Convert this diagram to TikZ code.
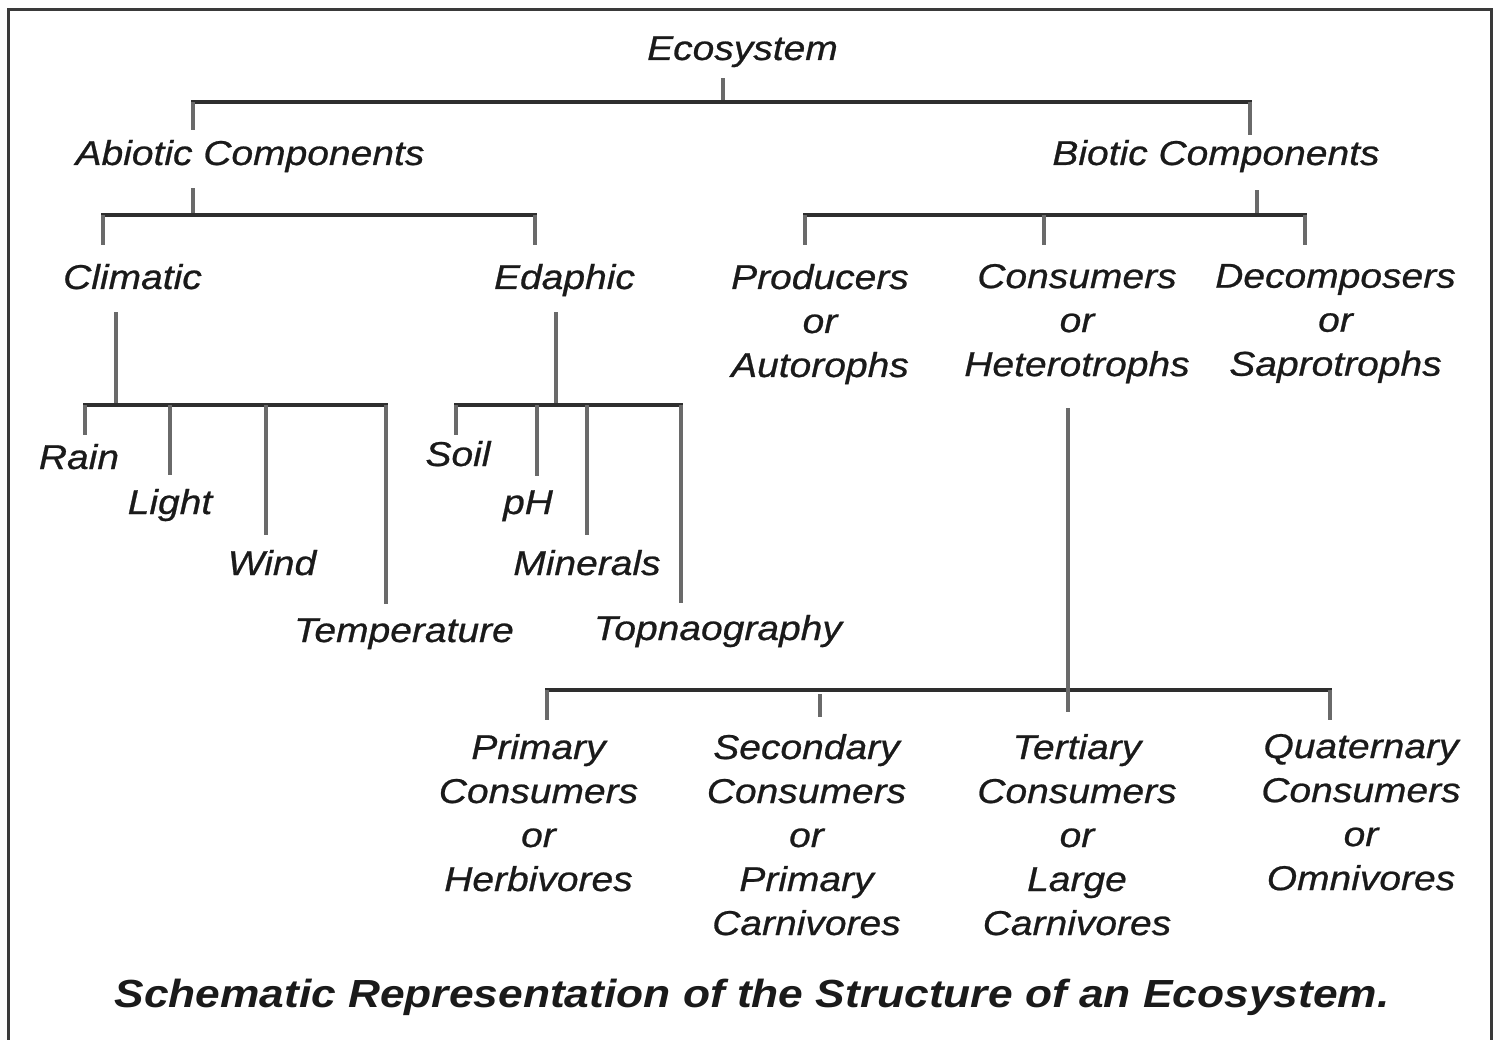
\documentclass[tikz,border=0pt]{standalone}
\usepackage{fontspec}
\newfontfamily\lblfont{Liberation Sans}[FakeStretch=1.13]
\newfontfamily\lblheavy{Liberation Sans}[FakeStretch=1.13, FakeBold=0.7]
\definecolor{txt}{HTML}{1A1A1A}
\definecolor{hcol}{HTML}{2E2E2E}
\definecolor{vcol}{HTML}{6A6A6A}
\definecolor{framecol}{HTML}{3A3A3A}
\begin{document}
\begin{tikzpicture}[x=1pt,y=-1pt,
  lbl/.style={inner sep=0pt, outer sep=0pt, text=txt,
    font=\lblheavy\itshape\fontsize{34.5}{44}\selectfont},
  one/.style={lbl, anchor=base},
  multi/.style={lbl, anchor=north, align=center},
  hl/.style={draw=hcol, line width=3.4pt, line cap=rect},
  vl/.style={draw=vcol, line width=4pt},
]
\useasboundingbox (0,0) rectangle (1497,1040);
\draw[framecol, line width=3pt] (8,1045) -- (8,10) -- (1491,10) -- (1491,1045);

% nodes
\node[one] (eco)  at (742.5,60) {Ecosystem};
\node[one] (abio) at (250,165) {Abiotic Components};
\node[one] (bio)  at (1216,165) {Biotic Components};
\node[one] (clim) at (132.5,289) {Climatic};
\node[one] (edap) at (564.5,289) {Edaphic};
\node[multi] (prod) at (820,264) {Producers\\or\\Autorophs};
\node[multi] (cons) at (1077,264) {Consumers\\or\\Heterotrophs};
\node[multi] (deco) at (1335.5,264) {Decomposers\\or\\Saprotrophs};
\node[one] (rain) at (79,469) {Rain};
\node[one] (light) at (170,514) {Light};
\node[one] (wind) at (272,575) {Wind};
\node[one] (temp) at (404,642) {Temperature};
\node[one] (soil) at (458,466) {Soil};
\node[one] (ph) at (528,514) {pH};
\node[one] (min) at (587,575) {Minerals};
\node[one] (topo) at (718,640) {Topnaography};
\node[multi] (prim) at (538.5,734) {Primary\\Consumers\\or\\Herbivores};
\node[multi] (seco) at (806.5,734) {Secondary\\Consumers\\or\\Primary\\Carnivores};
\node[multi] (tert) at (1077,734) {Tertiary\\Consumers\\or\\Large\\Carnivores};
\node[multi] (quat) at (1361,734) {Quaternary\\Consumers\\or\\Omnivores};
\node[inner sep=0pt, anchor=base, text=txt,
  font=\lblfont\bfseries\itshape\fontsize{39.2}{46}\selectfont] (cap) at (752,1007)
  {Schematic Representation of the Structure of an Ecosystem.};

% bus coordinates
\coordinate (e0) at (723,102);
\coordinate (e1) at (193,102);
\coordinate (e2) at (1250,102);
\coordinate (a0) at (193,215);
\coordinate (a1) at (103,215);
\coordinate (a2) at (535,215);
\coordinate (b0) at (1257,215);
\coordinate (b1) at (805,215);
\coordinate (b2) at (1044,215);
\coordinate (b3) at (1305,215);
\coordinate (c0) at (116,405);
\coordinate (c1) at (85,405);
\coordinate (c2) at (170,405);
\coordinate (c3) at (266,405);
\coordinate (c4) at (386,405);
\coordinate (d0) at (556,405);
\coordinate (d1) at (456,405);
\coordinate (d2) at (537,405);
\coordinate (d3) at (587,405);
\coordinate (d4) at (681,405);
\coordinate (h0) at (1068,690);
\coordinate (h1) at (547,690);
\coordinate (h2) at (820,690);
\coordinate (h3) at (1330,690);

% Ecosystem
\draw[vl, shorten <=11pt] (eco.south -| e0) -- (e0);
\draw[hl] (e1) -- (e2);
\draw[vl, shorten >=10pt] (e1) -- (e1 |- abio.north);
\draw[vl, shorten >=5pt] (e2) -- (e2 |- bio.north);

% Abiotic
\draw[vl, shorten <=16pt] (abio.south -| a0) -- (a0);
\draw[hl] (a1) -- (a2);
\draw[vl, shorten >=19pt] (a1) -- (a1 |- clim.north);
\draw[vl, shorten >=19pt] (a2) -- (a2 |- edap.north);

% Biotic
\draw[vl, shorten <=18pt] (bio.south -| b0) -- (b0);
\draw[hl] (b1) -- (b3);
\draw[vl, shorten >=19pt] (b1) -- (b1 |- prod.north);
\draw[vl, shorten >=19pt] (b2) -- (b2 |- cons.north);
\draw[vl, shorten >=19pt] (b3) -- (b3 |- deco.north);

% Climatic
\draw[vl, shorten <=23pt] (clim.south -| c0) -- (c0);
\draw[hl] (c1) -- (c4);
\draw[vl, shorten >=9pt] (c1) -- (c1 |- rain.north);
\draw[vl, shorten >=14pt] (c2) -- (c2 |- light.north);
\draw[vl, shorten >=15pt] (c3) -- (c3 |- wind.north);
\draw[vl, shorten >=14pt] (c4) -- (c4 |- temp.north);

% Edaphic
\draw[vl, shorten <=16pt] (edap.south -| d0) -- (d0);
\draw[hl] (d1) -- (d4);
\draw[vl, shorten >=6pt] (d1) -- (d1 |- soil.north);
\draw[vl, shorten >=14pt] (d2) -- (d2 |- ph.north);
\draw[vl, shorten >=15pt] (d3) -- (d3 |- min.north);
\draw[vl, shorten >=12pt] (d4) -- (d4 |- topo.north);

% Heterotrophs
\draw[hl] (h1) -- (h3);
\draw[vl, shorten <=25pt, shorten >=22pt] (cons.south -| h0) -- (h0 |- tert.north);
\draw[vl, shorten >=14pt] (h1) -- (h1 |- prim.north);
\draw[vl, shorten >=17pt] ([yshift=-4pt]h2) -- (h2 |- seco.north);
\draw[vl, shorten >=14pt] (h3) -- (h3 |- quat.north);
\end{tikzpicture}
\end{document}
